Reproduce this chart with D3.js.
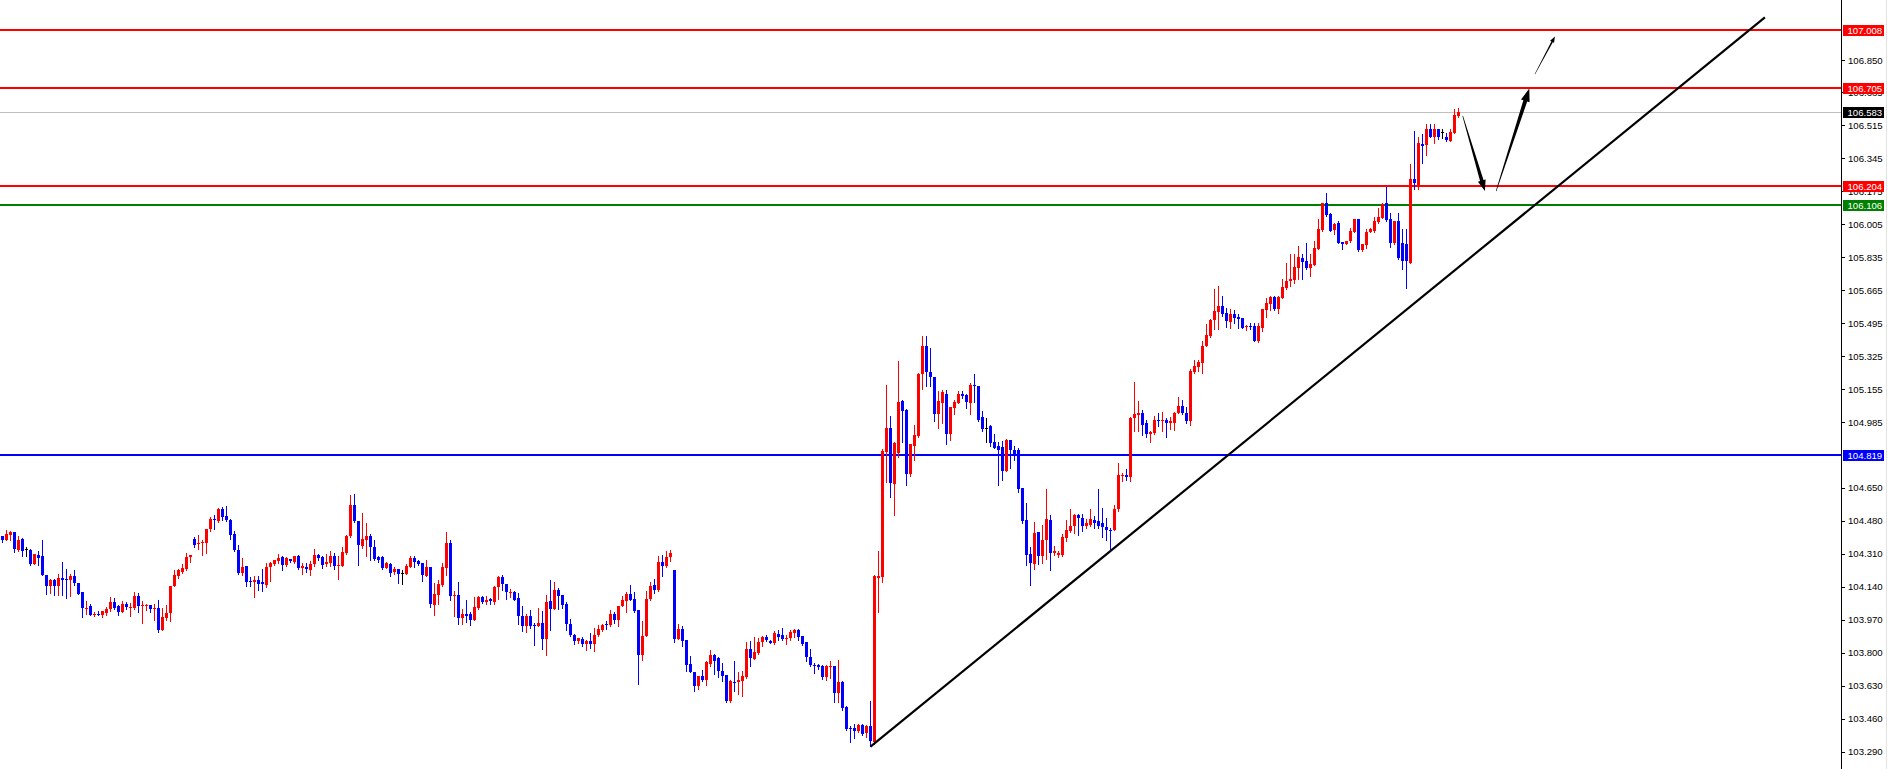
<!DOCTYPE html>
<html><head><meta charset="utf-8">
<script src="https://cdn.jsdelivr.net/npm/d3@7/dist/d3.min.js"></script>
<style>html,body{margin:0;padding:0;background:#fff;overflow:hidden}svg{display:block}</style>
</head><body>
<svg id="chart" width="1888" height="769"></svg>
<script>
const openP = [
104.403,104.382,104.408,104.420,104.327,104.386,104.331,104.327,104.258,104.305,
104.295,104.202,104.142,104.176,104.142,104.186,104.181,104.176,104.197,104.159,
104.114,104.028,104.039,103.994,104.001,103.992,104.004,104.025,104.063,104.039,
104.011,104.052,104.032,104.032,104.090,104.040,104.039,104.047,104.025,104.032,
103.918,103.979,104.003,104.142,104.197,104.217,104.228,104.291,104.387,104.360,
104.363,104.365,104.434,104.490,104.477,104.540,104.502,104.485,104.413,104.327,
104.210,104.245,104.171,104.162,104.176,104.162,104.149,104.243,104.258,104.271,
104.293,104.253,104.284,104.267,104.296,104.234,104.241,104.224,104.255,104.305,
104.293,104.258,104.262,104.300,104.248,104.248,104.313,104.399,104.562,104.480,
104.351,104.382,104.403,104.344,104.291,104.293,104.234,104.258,104.214,104.228,
104.210,104.206,104.240,104.286,104.270,104.262,104.196,104.240,104.047,104.098,
104.149,104.238,104.365,104.090,104.099,103.976,104.000,103.997,103.966,104.030,
104.088,104.059,104.076,104.063,104.137,104.191,104.155,104.111,104.114,104.080,
103.990,103.935,103.987,103.940,103.935,103.954,103.872,104.066,104.027,104.124,
104.099,104.052,103.949,103.891,103.859,103.871,103.843,103.862,103.846,103.893,
103.918,103.949,103.940,104.000,103.970,104.042,104.064,104.104,104.078,104.021,
103.789,103.884,104.078,104.150,104.121,104.269,104.248,104.294,104.224,103.872,
103.923,103.863,103.743,103.702,103.630,103.678,103.661,103.743,103.789,103.770,
103.707,103.683,103.552,103.650,103.647,103.656,103.673,103.820,103.767,103.799,
103.853,103.882,103.858,103.848,103.897,103.892,103.874,103.874,103.902,103.915,
103.884,103.853,103.780,103.738,103.734,103.733,103.672,103.726,103.729,103.592,
103.647,103.518,103.412,103.412,103.395,103.429,103.386,103.420,103.338,104.185,
104.188,104.832,104.958,104.670,104.829,105.094,105.047,104.722,104.866,104.914,
105.232,105.381,105.246,105.218,105.026,105.086,105.134,104.928,105.061,105.086,
105.129,105.124,105.086,105.180,105.172,105.012,104.957,104.966,104.883,104.863,
104.860,104.737,104.894,104.842,104.842,104.648,104.485,104.310,104.258,104.420,
104.299,104.382,104.485,104.315,104.305,104.305,104.391,104.427,104.451,104.511,
104.494,104.451,104.459,104.485,104.477,104.465,104.447,104.433,104.430,104.537,
104.709,104.717,104.703,105.009,105.021,105.035,104.980,104.928,104.932,105.000,
104.997,105.000,104.983,104.983,105.035,105.069,105.035,104.992,105.244,105.271,
105.292,105.378,105.429,105.512,105.553,105.584,105.546,105.502,105.541,105.527,
105.522,105.478,105.481,105.481,105.404,105.473,105.563,105.596,105.632,105.567,
105.627,105.679,105.713,105.718,105.782,105.833,105.816,105.782,105.795,105.876,
105.975,106.113,106.060,105.975,106.014,105.914,105.905,105.919,105.965,106.034,
105.873,105.897,105.965,105.970,106.017,106.039,106.113,106.031,105.907,106.022,
105.911,105.902,105.807,106.240,106.206,106.417,106.412,106.498,106.457,106.494,
106.480,106.457,106.434,106.477,106.563];
const highP = [
104.403,104.430,104.428,104.420,104.403,104.391,104.343,104.331,104.310,104.325,
104.379,104.202,104.180,104.180,104.207,104.265,104.228,104.207,104.224,104.159,
104.114,104.068,104.052,104.008,104.016,104.015,104.033,104.085,104.080,104.047,
104.068,104.059,104.056,104.111,104.107,104.065,104.052,104.047,104.052,104.073,
104.032,104.047,104.145,104.224,104.231,104.258,104.313,104.305,104.396,104.408,
104.382,104.439,104.497,104.506,104.545,104.550,104.554,104.489,104.428,104.356,
104.289,104.245,104.190,104.197,104.197,104.228,104.262,104.269,104.279,104.310,
104.300,104.293,104.284,104.300,104.305,104.262,104.262,104.271,104.331,104.308,
104.296,104.310,104.322,104.313,104.296,104.344,104.408,104.609,104.619,104.480,
104.519,104.465,104.413,104.382,104.296,104.300,104.265,104.262,104.241,104.228,
104.227,104.258,104.299,104.296,104.279,104.262,104.275,104.240,104.160,104.176,
104.262,104.420,104.382,104.119,104.165,104.025,104.069,104.007,104.087,104.093,
104.090,104.090,104.081,104.145,104.193,104.198,104.155,104.129,104.116,104.108,
104.042,103.999,104.021,103.951,104.032,104.016,104.098,104.176,104.165,104.133,
104.099,104.061,103.975,103.897,103.876,103.881,103.867,103.901,103.927,103.944,
103.949,103.961,104.017,104.007,104.042,104.093,104.111,104.150,104.111,104.021,
103.961,104.119,104.162,104.179,104.299,104.304,104.325,104.330,104.227,103.949,
103.935,103.867,103.784,103.702,103.681,103.712,103.755,103.811,103.794,103.777,
103.747,103.686,103.661,103.755,103.698,103.707,103.853,103.858,103.878,103.873,
103.887,103.891,103.867,103.910,103.918,103.927,103.892,103.916,103.923,103.922,
103.887,103.853,103.819,103.747,103.743,103.738,103.738,103.755,103.729,103.764,
103.652,103.527,103.424,103.434,103.434,103.434,103.427,103.549,104.202,104.322,
104.846,105.177,105.017,104.883,105.300,105.100,105.052,104.872,104.974,105.241,
105.429,105.429,105.366,105.218,105.146,105.151,105.151,105.066,105.100,105.146,
105.146,105.129,105.186,105.237,105.172,105.043,105.009,104.970,104.928,104.883,
104.888,104.901,104.894,104.866,104.855,104.648,104.571,104.345,104.471,104.420,
104.459,104.640,104.511,104.348,104.323,104.410,104.485,104.537,104.516,104.516,
104.516,104.489,104.540,104.502,104.640,104.545,104.494,104.442,104.562,104.774,
104.726,104.746,105.014,105.192,105.098,105.048,105.000,104.940,105.017,105.035,
105.040,105.009,105.014,105.040,105.117,105.100,105.066,105.258,105.309,105.309,
105.402,105.490,105.519,105.670,105.690,105.635,105.575,105.567,105.564,105.541,
105.524,105.485,105.498,105.498,105.498,105.571,105.627,105.635,105.635,105.635,
105.725,105.807,105.850,105.850,105.893,105.850,105.907,105.850,105.919,106.034,
106.113,106.165,106.065,106.010,106.022,105.914,105.919,105.988,106.034,106.034,
105.902,105.979,105.988,106.044,106.091,106.113,106.199,106.065,106.022,106.065,
105.979,105.979,106.314,106.485,106.457,106.469,106.520,106.520,106.520,106.494,
106.494,106.474,106.494,106.601,106.606];
const lowP = [
104.368,104.382,104.379,104.317,104.322,104.300,104.300,104.250,104.258,104.253,
104.202,104.104,104.107,104.099,104.099,104.099,104.080,104.090,104.150,104.104,
103.982,103.997,103.992,103.987,103.992,103.982,103.996,104.013,104.025,103.996,
104.008,104.025,103.987,104.025,104.010,103.953,104.018,104.008,103.967,103.905,
103.918,103.967,103.961,104.142,104.185,104.210,104.224,104.269,104.344,104.331,
104.305,104.313,104.425,104.434,104.471,104.485,104.477,104.386,104.322,104.207,
104.200,104.145,104.145,104.085,104.124,104.116,104.138,104.167,104.253,104.262,
104.224,104.245,104.267,104.262,104.231,104.207,104.214,104.202,104.248,104.279,
104.236,104.245,104.245,104.231,104.180,104.245,104.310,104.396,104.471,104.253,
104.339,104.300,104.279,104.276,104.269,104.231,104.234,104.197,104.207,104.161,
104.155,104.206,104.240,104.240,104.253,104.167,104.193,104.033,103.996,104.052,
104.145,104.201,104.073,103.990,103.945,103.945,103.960,103.944,103.966,104.025,
104.055,104.052,104.052,104.052,104.078,104.124,104.078,104.087,104.069,103.945,
103.913,103.904,103.928,103.841,103.935,103.820,103.786,103.915,104.027,104.027,
104.030,103.915,103.884,103.845,103.849,103.836,103.815,103.822,103.810,103.888,
103.913,103.923,103.935,103.953,103.935,104.039,104.007,104.073,104.007,103.640,
103.764,103.884,104.073,104.108,104.116,104.193,104.240,104.270,103.853,103.872,
103.836,103.707,103.698,103.600,103.614,103.655,103.635,103.730,103.692,103.672,
103.652,103.544,103.544,103.600,103.589,103.575,103.668,103.733,103.767,103.793,
103.832,103.862,103.848,103.846,103.867,103.867,103.846,103.863,103.880,103.863,
103.841,103.755,103.730,103.695,103.716,103.664,103.657,103.668,103.544,103.544,
103.506,103.403,103.338,103.360,103.391,103.378,103.368,103.317,103.331,104.007,
104.162,104.677,104.600,104.506,104.808,104.883,104.662,104.711,104.794,104.911,
105.155,105.175,105.172,104.991,104.955,104.980,104.872,104.897,105.026,105.083,
105.112,105.057,105.031,105.092,104.995,104.940,104.883,104.863,104.854,104.664,
104.687,104.737,104.748,104.794,104.626,104.465,104.253,104.150,104.231,104.258,
104.263,104.284,104.227,104.305,104.294,104.300,104.373,104.420,104.418,104.407,
104.425,104.442,104.451,104.442,104.442,104.396,104.382,104.330,104.430,104.528,
104.683,104.688,104.683,104.940,104.940,104.918,104.911,104.885,104.928,104.966,
104.940,104.911,104.949,104.946,105.035,105.026,104.983,104.974,105.241,105.249,
105.241,105.378,105.426,105.464,105.464,105.533,105.478,105.473,105.498,105.473,
105.473,105.460,105.467,105.404,105.399,105.455,105.529,105.563,105.563,105.546,
105.627,105.670,105.687,105.704,105.721,105.721,105.773,105.739,105.794,105.876,
105.970,106.048,105.970,105.953,105.907,105.880,105.902,105.914,105.965,105.867,
105.867,105.885,105.965,105.965,106.014,106.039,106.022,105.888,105.905,105.828,
105.773,105.679,105.807,106.185,106.185,106.323,106.360,106.457,106.426,106.443,
106.451,106.434,106.434,106.474,106.555];
const closeP = [
104.382,104.413,104.420,104.331,104.382,104.322,104.331,104.258,104.310,104.289,
104.202,104.142,104.176,104.145,104.186,104.176,104.178,104.197,104.159,104.104,
104.028,104.032,103.992,104.001,103.992,104.015,104.027,104.063,104.032,104.008,
104.052,104.033,104.035,104.094,104.039,104.044,104.047,104.025,104.032,103.918,
103.982,104.003,104.145,104.202,104.224,104.234,104.293,104.305,104.356,104.365,
104.367,104.434,104.490,104.482,104.540,104.497,104.482,104.408,104.327,104.210,
104.241,104.166,104.162,104.176,104.155,104.152,104.243,104.262,104.276,104.289,
104.253,104.289,104.271,104.296,104.234,104.245,104.231,104.258,104.305,104.288,
104.253,104.265,104.300,104.245,104.253,104.320,104.403,104.562,104.477,104.356,
104.386,104.403,104.344,104.283,104.279,104.234,104.262,104.210,104.228,104.207,
104.210,104.248,104.289,104.268,104.258,104.198,104.240,104.052,104.102,104.153,
104.240,104.365,104.090,104.099,103.976,104.000,103.987,103.966,104.037,104.088,
104.059,104.073,104.064,104.140,104.191,104.152,104.111,104.114,104.073,103.987,
103.935,103.987,103.935,103.935,103.953,103.872,104.063,104.027,104.124,104.093,
104.047,103.945,103.889,103.861,103.876,103.843,103.862,103.846,103.893,103.922,
103.944,103.940,104.000,103.970,104.042,104.073,104.104,104.073,104.016,103.789,
103.887,104.078,104.145,104.124,104.269,104.248,104.294,104.315,103.872,103.923,
103.858,103.738,103.698,103.626,103.678,103.661,103.750,103.789,103.758,103.703,
103.678,103.552,103.655,103.647,103.661,103.681,103.820,103.770,103.805,103.856,
103.882,103.863,103.848,103.903,103.880,103.870,103.877,103.908,103.917,103.880,
103.846,103.778,103.738,103.730,103.726,103.672,103.729,103.729,103.592,103.647,
103.515,103.407,103.407,103.395,103.429,103.381,103.424,103.343,104.193,104.193,
104.837,104.954,104.674,104.880,105.091,105.043,104.722,104.872,104.918,105.237,
105.381,105.244,105.218,105.026,105.095,105.141,104.928,105.064,105.091,105.129,
105.120,105.090,105.180,105.172,105.000,104.952,104.957,104.880,104.854,104.842,
104.737,104.897,104.842,104.820,104.640,104.480,104.305,104.262,104.418,104.299,
104.382,104.490,104.315,104.323,104.315,104.394,104.430,104.454,104.506,104.494,
104.451,104.465,104.489,104.468,104.451,104.447,104.430,104.430,104.537,104.712,
104.717,104.703,105.009,105.026,105.035,104.974,104.923,104.935,105.000,104.992,
105.000,104.983,104.995,105.035,105.072,105.035,104.992,105.249,105.275,105.296,
105.381,105.433,105.515,105.559,105.584,105.541,105.507,105.541,105.521,105.519,
105.473,105.481,105.478,105.404,105.481,105.567,105.598,105.632,105.567,105.632,
105.682,105.713,105.721,105.787,105.838,105.811,105.782,105.799,105.885,105.979,
106.113,106.051,105.970,106.005,105.907,105.905,105.919,105.970,106.034,105.873,
105.902,105.965,105.983,106.022,106.044,106.108,106.027,105.907,106.022,105.833,
105.816,105.816,106.240,106.220,106.422,106.408,106.498,106.457,106.494,106.457,
106.480,106.438,106.480,106.566,106.583];

const tickValues = [103.290,103.460,103.630,103.800,103.970,104.140,104.310,104.480,104.650,
  104.985,105.155,105.325,105.495,105.665,105.835,106.005,106.175,106.345,106.515,106.685,106.850];
const levelValues = [107.008, 106.705, 106.204, 106.106, 104.819];
const levelColors = ["#ff0000", "#ff0000", "#ff0000", "#008000", "#0000ff"];
const currentPrice = 106.583;
// trend line and arrows: [bar index, price]
const trendLine = [[217, 103.316], [440.6, 107.070]];
const arrowDown = [[365.05, 106.563], [370.6, 106.176]];
const arrowUp = [[373.4, 106.176], [381.7, 106.704]];
const arrowUp2 = [[383.1, 106.778], [388.1, 106.972]];

const W = 1888, H = 769, axisX = 1841;
const svg = d3.select("#chart");
svg.append("rect").attr("width", W).attr("height", H).attr("fill", "#fff");

const n = openP.length;
const x = d3.scaleLinear().domain([0, n - 1]).range([2.5, 2.5 + 4 * (n - 1)]);
const y = d3.scaleLinear().domain([104.819, 107.008]).range([454.7, 29.5]);

const data = d3.range(n).map(i => ({i, o: openP[i], h: highP[i], l: lowP[i], c: closeP[i]}));
const col = d => d.c > d.o ? "#ff0000" : (d.c < d.o ? "#0000ff" : "#000000");

// level lines
const lv = svg.append("g");
levelValues.forEach((v, k) => {
  const yy = Math.round(y(v));
  lv.append("rect").attr("x", 0).attr("y", yy - 1).attr("width", axisX).attr("height", 2).attr("fill", levelColors[k]);
});
lv.append("rect").attr("x", 0).attr("y", Math.round(y(currentPrice))).attr("width", axisX).attr("height", 1).attr("fill", "#c0c0c0");

// candles
const cg = svg.append("g").attr("shape-rendering", "crispEdges");
cg.selectAll("rect.w").data(data).join("rect").attr("class", "w")
  .attr("x", d => x(d.i) - 0.5).attr("width", 1)
  .attr("y", d => Math.round(y(d.h)))
  .attr("height", d => Math.max(1, Math.round(y(d.l)) - Math.round(y(d.h)) + 1))
  .attr("fill", col);
cg.selectAll("rect.b").data(data).join("rect").attr("class", "b")
  .attr("x", d => x(d.i) - 1.5).attr("width", 3)
  .attr("y", d => Math.round(y(Math.max(d.o, d.c))))
  .attr("height", d => Math.max(1, Math.round(y(Math.min(d.o, d.c))) - Math.round(y(Math.max(d.o, d.c)))))
  .attr("fill", col);

// trend line
svg.append("line")
  .attr("x1", x(trendLine[0][0])).attr("y1", y(trendLine[0][1]))
  .attr("x2", x(trendLine[1][0])).attr("y2", y(trendLine[1][1]))
  .attr("stroke", "#000").attr("stroke-width", 2.2);

// tapered arrows
function arrow(seg, w0, w1, headLen, headW) {
  const x1 = x(seg[0][0]), y1 = y(seg[0][1]), x2 = x(seg[1][0]), y2 = y(seg[1][1]);
  const L = Math.hypot(x2 - x1, y2 - y1), ux = (x2 - x1) / L, uy = (y2 - y1) / L;
  const nx = -uy, ny = ux;
  const bx = x2 - ux * headLen, by = y2 - uy * headLen;
  const pts = [
    [x1 + nx * w0 / 2, y1 + ny * w0 / 2], [bx + nx * w1 / 2, by + ny * w1 / 2],
    [bx + nx * headW / 2, by + ny * headW / 2], [x2, y2],
    [bx - nx * headW / 2, by - ny * headW / 2], [bx - nx * w1 / 2, by - ny * w1 / 2],
    [x1 - nx * w0 / 2, y1 - ny * w0 / 2]];
  svg.append("polygon").attr("points", pts.map(p => p.join(",")).join(" ")).attr("fill", "#000");
}
arrow(arrowDown, 0.6, 3.6, 11, 8);
arrow(arrowUp, 0.6, 4, 13, 9);
arrow(arrowUp2, 0.4, 1.6, 6, 4.5);

// right axis
svg.append("rect").attr("x", axisX).attr("y", 0).attr("width", 1).attr("height", H).attr("fill", "#000");
svg.append("rect").attr("x", 1886).attr("y", 0).attr("width", 1).attr("height", H).attr("fill", "#e3e3e3");
const ax = svg.append("g").attr("transform", `translate(${axisX + 1},0)`)
  .call(d3.axisRight(y).tickValues(tickValues).tickFormat(d3.format(".3f")).tickSize(3).tickPadding(3));
ax.select(".domain").remove();
ax.selectAll(".tick line").attr("stroke", "#000").attr("shape-rendering", "crispEdges");
ax.selectAll(".tick text").attr("font-family", "Liberation Sans, Arial, sans-serif").attr("font-size", 9.6).attr("fill", "#000");

// value boxes
const boxes = levelValues.map((v, k) => ({v, c: levelColors[k]})).concat([{v: currentPrice, c: "#000"}]);
const bg = svg.append("g");
boxes.forEach(b => {
  const yy = Math.round(y(b.v));
  bg.append("rect").attr("x", axisX + 2).attr("y", yy - 5).attr("width", 41).attr("height", 11).attr("fill", b.c);
  bg.append("text").attr("x", axisX + 6.5).attr("y", yy + 0.5).attr("dominant-baseline", "central")
    .attr("font-family", "Liberation Sans, Arial, sans-serif").attr("font-size", 9.6).attr("fill", "#fff")
    .text(d3.format(".3f")(b.v));
});
</script>
</body></html>
